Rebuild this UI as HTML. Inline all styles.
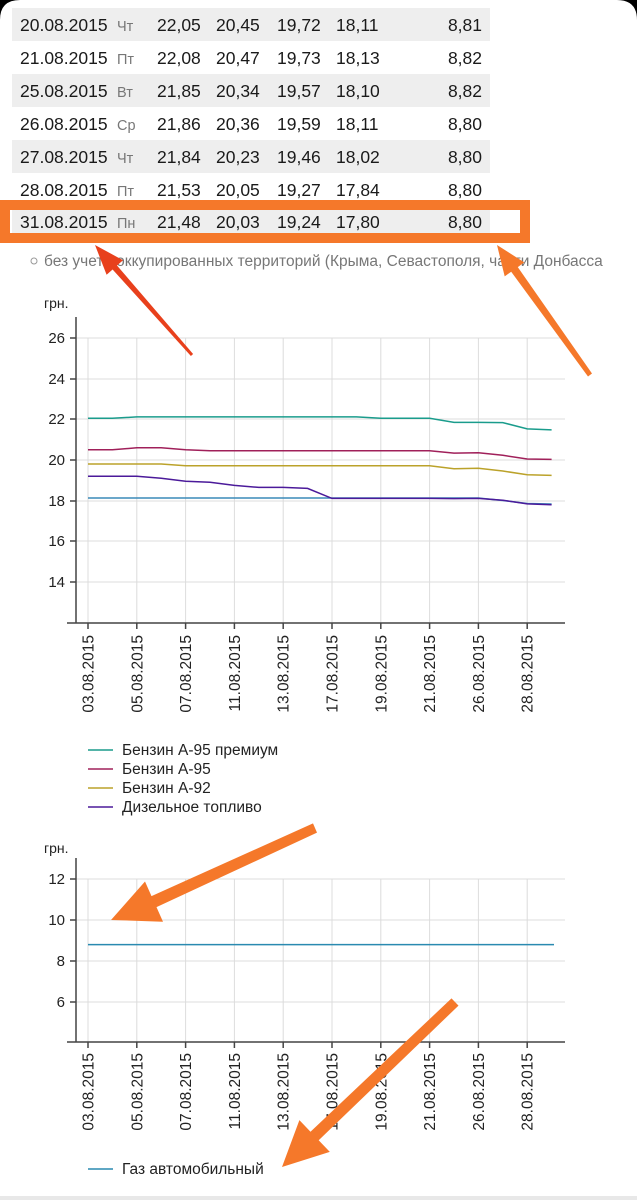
<!DOCTYPE html>
<html><head><meta charset="utf-8"><style>
html,body{margin:0;padding:0;background:#fff;}
svg{display:block;font-family:"Liberation Sans","DejaVu Sans",sans-serif;}
</style></head><body>
<svg width="637" height="1200" viewBox="0 0 637 1200" xmlns="http://www.w3.org/2000/svg">
<rect width="637" height="1200" fill="#fff"/>
<path d="M0 0 H20 Q0 0 0 20 Z" fill="#000"/>
<path d="M637 0 H617 Q637 0 637 20 Z" fill="#000"/>
<rect x="12" y="8" width="478" height="33" fill="#eeeeee"/>
<rect x="12" y="74" width="478" height="33" fill="#eeeeee"/>
<rect x="12" y="140" width="478" height="33" fill="#eeeeee"/>
<rect x="12" y="206" width="478" height="33" fill="#eeeeee"/>
<g font-size="17.5" fill="#1a1a1a">
<g transform="translate(0,31)"><text x="20">20.08.2015</text><text x="117" font-size="14.5" fill="#777">Чт</text><text x="157">22,05</text><text x="216">20,45</text><text x="277">19,72</text><text x="336">18,11</text><text x="482" text-anchor="end">8,81</text></g>
<g transform="translate(0,64)"><text x="20">21.08.2015</text><text x="117" font-size="14.5" fill="#777">Пт</text><text x="157">22,08</text><text x="216">20,47</text><text x="277">19,73</text><text x="336">18,13</text><text x="482" text-anchor="end">8,82</text></g>
<g transform="translate(0,97)"><text x="20">25.08.2015</text><text x="117" font-size="14.5" fill="#777">Вт</text><text x="157">21,85</text><text x="216">20,34</text><text x="277">19,57</text><text x="336">18,10</text><text x="482" text-anchor="end">8,82</text></g>
<g transform="translate(0,130)"><text x="20">26.08.2015</text><text x="117" font-size="14.5" fill="#777">Ср</text><text x="157">21,86</text><text x="216">20,36</text><text x="277">19,59</text><text x="336">18,11</text><text x="482" text-anchor="end">8,80</text></g>
<g transform="translate(0,163)"><text x="20">27.08.2015</text><text x="117" font-size="14.5" fill="#777">Чт</text><text x="157">21,84</text><text x="216">20,23</text><text x="277">19,46</text><text x="336">18,02</text><text x="482" text-anchor="end">8,80</text></g>
<g transform="translate(0,196)"><text x="20">28.08.2015</text><text x="117" font-size="14.5" fill="#777">Пт</text><text x="157">21,53</text><text x="216">20,05</text><text x="277">19,27</text><text x="336">17,84</text><text x="482" text-anchor="end">8,80</text></g>
<g transform="translate(0,228)"><text x="20">31.08.2015</text><text x="117" font-size="14.5" fill="#777">Пн</text><text x="157">21,48</text><text x="216">20,03</text><text x="277">19,24</text><text x="336">17,80</text><text x="482" text-anchor="end">8,80</text></g>
</g>
<rect x="5" y="205" width="520" height="33" fill="none" stroke="#f5782a" stroke-width="10"/>
<circle cx="34" cy="261" r="3" fill="none" stroke="#999" stroke-width="1"/>
<text x="44" y="266" font-size="15.5" fill="#777">без учета оккупированных территорий (Крыма, Севастополя, части Донбасса</text>

<!-- chart 1 -->
<text x="44" y="308" font-size="14" fill="#222">грн.</text>
<g stroke="#dcdcdc" stroke-width="1">
<line x1="76" x2="565" y1="338" y2="338"/><line x1="76" x2="565" y1="379" y2="379"/><line x1="76" x2="565" y1="419" y2="419"/><line x1="76" x2="565" y1="460" y2="460"/><line x1="76" x2="565" y1="501" y2="501"/><line x1="76" x2="565" y1="541" y2="541"/><line x1="76" x2="565" y1="582" y2="582"/>
<line x1="88" x2="88" y1="338" y2="623"/><line x1="136.8" x2="136.8" y1="338" y2="623"/><line x1="185.6" x2="185.6" y1="338" y2="623"/><line x1="234.4" x2="234.4" y1="338" y2="623"/><line x1="283.2" x2="283.2" y1="338" y2="623"/><line x1="332" x2="332" y1="338" y2="623"/><line x1="380.8" x2="380.8" y1="338" y2="623"/><line x1="429.6" x2="429.6" y1="338" y2="623"/><line x1="478.4" x2="478.4" y1="338" y2="623"/><line x1="527.2" x2="527.2" y1="338" y2="623"/>
</g>
<g stroke="#444" stroke-width="1.5">
<line x1="76" x2="76" y1="317" y2="623"/><line x1="67" x2="565" y1="623" y2="623"/>
<line x1="70" x2="76" y1="338" y2="338"/><line x1="70" x2="76" y1="379" y2="379"/><line x1="70" x2="76" y1="419" y2="419"/><line x1="70" x2="76" y1="460" y2="460"/><line x1="70" x2="76" y1="501" y2="501"/><line x1="70" x2="76" y1="541" y2="541"/><line x1="70" x2="76" y1="582" y2="582"/>
<line x1="88" x2="88" y1="623" y2="629"/><line x1="136.8" x2="136.8" y1="623" y2="629"/><line x1="185.6" x2="185.6" y1="623" y2="629"/><line x1="234.4" x2="234.4" y1="623" y2="629"/><line x1="283.2" x2="283.2" y1="623" y2="629"/><line x1="332" x2="332" y1="623" y2="629"/><line x1="380.8" x2="380.8" y1="623" y2="629"/><line x1="429.6" x2="429.6" y1="623" y2="629"/><line x1="478.4" x2="478.4" y1="623" y2="629"/><line x1="527.2" x2="527.2" y1="623" y2="629"/>
</g>
<g font-size="15" fill="#222" text-anchor="end">
<text x="65" y="343">26</text><text x="65" y="384">24</text><text x="65" y="424">22</text><text x="65" y="465">20</text><text x="65" y="506">18</text><text x="65" y="546">16</text><text x="65" y="587">14</text>
</g>
<g font-size="15.5" fill="#222" text-anchor="end">
<text transform="translate(93.5,635) rotate(-90)">03.08.2015</text>
<text transform="translate(142.3,635) rotate(-90)">05.08.2015</text>
<text transform="translate(191.1,635) rotate(-90)">07.08.2015</text>
<text transform="translate(239.9,635) rotate(-90)">11.08.2015</text>
<text transform="translate(288.7,635) rotate(-90)">13.08.2015</text>
<text transform="translate(337.5,635) rotate(-90)">17.08.2015</text>
<text transform="translate(386.3,635) rotate(-90)">19.08.2015</text>
<text transform="translate(435.1,635) rotate(-90)">21.08.2015</text>
<text transform="translate(483.9,635) rotate(-90)">26.08.2015</text>
<text transform="translate(532.7,635) rotate(-90)">28.08.2015</text>
</g>
<g fill="none" stroke-width="1.5">
<polyline stroke="#3a8ab8" points="88,498 478.4,498 502.8,500.5 527.2,503.5 551.6,504"/>
<polyline stroke="#1a9c8c" points="88,418.3 112.4,418.3 136.8,416.9 356.4,416.9 380.8,418.3 429.6,418.3 454,422.4 478.4,422.4 502.8,422.6 527.2,428.9 551.6,429.9"/>
<polyline stroke="#a0205a" points="88,449.8 112.4,449.8 136.8,447.8 161.2,447.8 185.6,449.8 210,450.8 429.6,450.8 454,453.1 478.4,452.7 502.8,455.3 527.2,459 551.6,459.4"/>
<polyline stroke="#bba22a" points="88,464 161.2,464 185.6,465.7 429.6,465.7 454,468.7 478.4,468.3 502.8,471 527.2,474.8 551.6,475.4"/>
<polyline stroke="#4b1a9a" points="88,476.2 136.8,476.2 161.2,478.3 185.6,481.3 210,482.3 234.4,485.4 258.8,487.4 283.2,487.4 307.6,488.4 332,498.4 429.6,498.4 454,498.6 478.4,498.4 502.8,500.2 527.2,503.9 551.6,504.7"/>
</g>
<g font-size="15.5" fill="#222">
<line x1="88" x2="113" y1="750" y2="750" stroke="#1a9c8c" stroke-width="1.5"/><text x="122" y="755">Бензин А-95 премиум</text>
<line x1="88" x2="113" y1="769" y2="769" stroke="#a0205a" stroke-width="1.5"/><text x="122" y="774">Бензин А-95</text>
<line x1="88" x2="113" y1="788" y2="788" stroke="#bba22a" stroke-width="1.5"/><text x="122" y="793">Бензин А-92</text>
<line x1="88" x2="113" y1="807" y2="807" stroke="#4b1a9a" stroke-width="1.5"/><text x="122" y="812">Дизельное топливо</text>
</g>

<!-- chart 2 -->
<text x="44" y="853" font-size="14" fill="#222">грн.</text>
<g stroke="#dcdcdc" stroke-width="1">
<line x1="76" x2="565" y1="879" y2="879"/><line x1="76" x2="565" y1="920" y2="920"/><line x1="76" x2="565" y1="961" y2="961"/><line x1="76" x2="565" y1="1002" y2="1002"/>
<line x1="88" x2="88" y1="879" y2="1042"/><line x1="136.8" x2="136.8" y1="879" y2="1042"/><line x1="185.6" x2="185.6" y1="879" y2="1042"/><line x1="234.4" x2="234.4" y1="879" y2="1042"/><line x1="283.2" x2="283.2" y1="879" y2="1042"/><line x1="332" x2="332" y1="879" y2="1042"/><line x1="380.8" x2="380.8" y1="879" y2="1042"/><line x1="429.6" x2="429.6" y1="879" y2="1042"/><line x1="478.4" x2="478.4" y1="879" y2="1042"/><line x1="527.2" x2="527.2" y1="879" y2="1042"/>
</g>
<g stroke="#444" stroke-width="1.5">
<line x1="76" x2="76" y1="858" y2="1042"/><line x1="67" x2="565" y1="1042" y2="1042"/>
<line x1="70" x2="76" y1="879" y2="879"/><line x1="70" x2="76" y1="920" y2="920"/><line x1="70" x2="76" y1="961" y2="961"/><line x1="70" x2="76" y1="1002" y2="1002"/>
<line x1="88" x2="88" y1="1042" y2="1048"/><line x1="136.8" x2="136.8" y1="1042" y2="1048"/><line x1="185.6" x2="185.6" y1="1042" y2="1048"/><line x1="234.4" x2="234.4" y1="1042" y2="1048"/><line x1="283.2" x2="283.2" y1="1042" y2="1048"/><line x1="332" x2="332" y1="1042" y2="1048"/><line x1="380.8" x2="380.8" y1="1042" y2="1048"/><line x1="429.6" x2="429.6" y1="1042" y2="1048"/><line x1="478.4" x2="478.4" y1="1042" y2="1048"/><line x1="527.2" x2="527.2" y1="1042" y2="1048"/>
</g>
<g font-size="15" fill="#222" text-anchor="end">
<text x="65" y="884">12</text><text x="65" y="925">10</text><text x="65" y="966">8</text><text x="65" y="1007">6</text>
</g>
<g font-size="15.5" fill="#222" text-anchor="end">
<text transform="translate(93.5,1053) rotate(-90)">03.08.2015</text>
<text transform="translate(142.3,1053) rotate(-90)">05.08.2015</text>
<text transform="translate(191.1,1053) rotate(-90)">07.08.2015</text>
<text transform="translate(239.9,1053) rotate(-90)">11.08.2015</text>
<text transform="translate(288.7,1053) rotate(-90)">13.08.2015</text>
<text transform="translate(337.5,1053) rotate(-90)">17.08.2015</text>
<text transform="translate(386.3,1053) rotate(-90)">19.08.2015</text>
<text transform="translate(435.1,1053) rotate(-90)">21.08.2015</text>
<text transform="translate(483.9,1053) rotate(-90)">26.08.2015</text>
<text transform="translate(532.7,1053) rotate(-90)">28.08.2015</text>
</g>
<line x1="88" x2="554" y1="944.6" y2="944.6" stroke="#2a8ab0" stroke-width="1.5"/>
<line x1="88" x2="113" y1="1169" y2="1169" stroke="#2a8ab0" stroke-width="1.5"/>
<text x="122" y="1174" font-size="15.5" fill="#222">Газ автомобильный</text>
<rect x="0" y="1196" width="637" height="4" fill="#e8e8e8"/>

<!-- arrows -->
<polygon fill="#e8401c" points="95,245 106.6,274.8 112.6,269.5 190.9,356 193.1,354 117,265.5 123,260.2"/>
<g fill="#f5782a">
<polygon points="497,245 504.7,276.4 511.2,271.7 588,376.5 592,373.5 517.8,267.1 524.3,262.4"/>
<polygon points="111,920 163,921.7 156.5,907.1 317,832.6 313,823.4 151.5,896.1 145,881.5"/>
<polygon points="282,1167 329.8,1151.9 318.7,1140.3 458.5,1005.6 451.5,998.4 310.5,1131.7 299.4,1120.1"/>
</g>
</svg>
</body></html>
